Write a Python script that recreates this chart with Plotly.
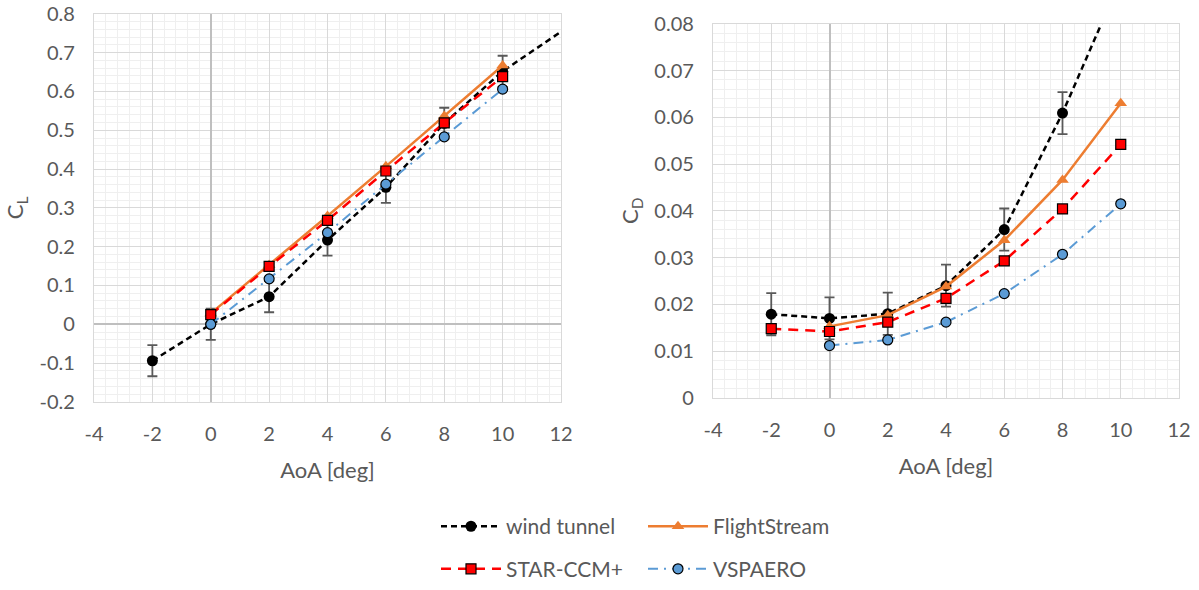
import plotly.graph_objects as go

# ---------------- data ----------------
aoa_ticks = [-4, -2, 0, 2, 4, 6, 8, 10, 12]
aoa_tick_text = ['-4', '-2', '0', '2', '4', '6', '8', '10', '12']
cl_ticks = [-0.2, -0.1, 0, 0.1, 0.2, 0.3, 0.4, 0.5, 0.6, 0.7, 0.8]
cl_tick_text = ['-0.2', '-0.1', '0', '0.1', '0.2', '0.3', '0.4', '0.5', '0.6', '0.7', '0.8']
cd_ticks = [0, 0.01, 0.02, 0.03, 0.04, 0.05, 0.06, 0.07, 0.08]
cd_tick_text = ['0', '0.01', '0.02', '0.03', '0.04', '0.05', '0.06', '0.07', '0.08']

# wind tunnel (last CL point lies beyond the visible x-range; only its line segment shows)
wt_cl_aoa = [-2, 0, 2, 4, 6, 8, 10, 14]
wt_cl = [-0.094, 0.0, 0.071, 0.217, 0.353, 0.518, 0.652, 0.856]
wt_cl_err = 0.04
wt_cd_aoa = [-2, 0, 2, 4, 6, 8, 10]
wt_cd = [0.0179, 0.0170, 0.0180, 0.0240, 0.0360, 0.0609, 0.0895]
wt_cd_err = 0.0045

fs_aoa = [0, 2, 4, 6, 8, 10]
fs_cl = [0.028, 0.153, 0.279, 0.407, 0.537, 0.667]
fs_cd = [0.0153, 0.0177, 0.0238, 0.0337, 0.0466, 0.0630]

star_cl_aoa = [0, 2, 4, 6, 8, 10]
star_cl = [0.025, 0.149, 0.268, 0.395, 0.519, 0.638]
star_cd_aoa = [-2, 0, 2, 4, 6, 8, 10]
star_cd = [0.0148, 0.0142, 0.0162, 0.0213, 0.0293, 0.0404, 0.0542]

vsp_aoa = [0, 2, 4, 6, 8, 10]
vsp_cl = [0.0, 0.117, 0.236, 0.361, 0.483, 0.606]
vsp_cd = [0.0112, 0.0124, 0.0162, 0.0223, 0.0307, 0.0415]

# ---------------- styles ----------------
W, H = 1199, 590
FONT = 'Lato, Open Sans, sans-serif'
TXT = '#595959'
ERRC = '#595959'


def px_x(p):
    return p / W


def px_y(p):
    return 1 - p / H


wt_line = dict(color='black', width=2.5, dash='6px,4px')
wt_marker = dict(symbol='circle', size=11, color='black')
fs_line = dict(color='#ED7D31', width=2.5)
fs_marker = dict(symbol='triangle-up', size=11, color='#ED7D31')
star_line = dict(color='#FF0000', width=2.5, dash='10px,7px')
star_marker = dict(symbol='square', size=10, color='#FF0000', line=dict(color='black', width=1.2))
vsp_line = dict(color='#5B9BD5', width=2, dash='10px,6px,2px,6px')
vsp_marker = dict(symbol='circle', size=10, color='#5B9BD5', line=dict(color='black', width=1.2))

fig = go.Figure()

# ---- left: CL ----
fig.add_trace(go.Scatter(x=wt_cl_aoa, y=wt_cl, mode='lines+markers', name='wind tunnel',
                         line=wt_line, marker=wt_marker, xaxis='x', yaxis='y', legend='legend',
                         error_y=dict(type='constant', value=wt_cl_err, color=ERRC, thickness=1.8, width=5)))
fig.add_trace(go.Scatter(x=fs_aoa, y=fs_cl, mode='lines+markers', name='FlightStream',
                         line=fs_line, marker=fs_marker, xaxis='x', yaxis='y', legend='legend'))
fig.add_trace(go.Scatter(x=star_cl_aoa, y=star_cl, mode='lines+markers', name='STAR-CCM+',
                         line=star_line, marker=star_marker, xaxis='x', yaxis='y', legend='legend2'))
fig.add_trace(go.Scatter(x=vsp_aoa, y=vsp_cl, mode='lines+markers', name='VSPAERO',
                         line=vsp_line, marker=vsp_marker, xaxis='x', yaxis='y', legend='legend2'))

# ---- right: CD ----
fig.add_trace(go.Scatter(x=wt_cd_aoa, y=wt_cd, mode='lines+markers', name='wind tunnel',
                         line=wt_line, marker=wt_marker, xaxis='x2', yaxis='y2', showlegend=False,
                         error_y=dict(type='constant', value=wt_cd_err, color=ERRC, thickness=1.8, width=5)))
fig.add_trace(go.Scatter(x=fs_aoa, y=fs_cd, mode='lines+markers', name='FlightStream',
                         line=fs_line, marker=fs_marker, xaxis='x2', yaxis='y2', showlegend=False))
fig.add_trace(go.Scatter(x=star_cd_aoa, y=star_cd, mode='lines+markers', name='STAR-CCM+',
                         line=star_line, marker=star_marker, xaxis='x2', yaxis='y2', showlegend=False))
fig.add_trace(go.Scatter(x=vsp_aoa, y=vsp_cd, mode='lines+markers', name='VSPAERO',
                         line=vsp_line, marker=vsp_marker, xaxis='x2', yaxis='y2', showlegend=False))

GRID = '#D9D9D9'
MINOR = '#EFEFEF'
ZERO = '#BFBFBF'


def xaxis_cfg(domain, anchor):
    return dict(domain=domain, anchor=anchor, range=[-4, 12], tickmode='array',
                tickvals=aoa_ticks, ticktext=aoa_tick_text, showgrid=True, gridcolor=GRID, gridwidth=1.3,
                minor=dict(dtick=0.4, tick0=0, showgrid=True, gridcolor=MINOR, gridwidth=1),
                zeroline=True, zerolinecolor=ZERO, zerolinewidth=1.5,
                showline=True, mirror=True, linecolor=GRID, linewidth=1.3,
                ticks='', ticklabelstandoff=14, automargin=False, ticklabeloverflow='allow',
                tickfont=dict(family=FONT, size=20, color=TXT),
                title=dict(text='AoA [deg]', font=dict(family=FONT, size=22, color=TXT), standoff=18))


def yaxis_cfg(domain, anchor, rng, vals, texts, mdt, title):
    return dict(domain=domain, anchor=anchor, range=rng, tickmode='array',
                tickvals=vals, ticktext=texts, showgrid=True, gridcolor=GRID, gridwidth=1.3,
                minor=dict(dtick=mdt, tick0=0, showgrid=True, gridcolor=MINOR, gridwidth=1),
                zeroline=True, zerolinecolor=ZERO, zerolinewidth=1.5,
                showline=True, mirror=True, linecolor=GRID, linewidth=1.3,
                ticks='', ticklabelstandoff=14, automargin=False, ticklabeloverflow='allow',
                tickfont=dict(family=FONT, size=20, color=TXT),
                title=dict(text=title, font=dict(family=FONT, size=22, color=TXT), standoff=9))


fig.update_layout(
    width=W, height=H,
    margin=dict(l=0, r=0, t=0, b=0),
    paper_bgcolor='white', plot_bgcolor='white',
    font=dict(family=FONT, color=TXT),
    xaxis=xaxis_cfg([px_x(94), px_x(561)], 'y'),
    yaxis=yaxis_cfg([px_y(406), px_y(14)], 'x', [-0.2, 0.8], cl_ticks, cl_tick_text, 0.02, 'C<sub>L</sub>'),
    xaxis2=xaxis_cfg([px_x(713), px_x(1179)], 'y2'),
    yaxis2=yaxis_cfg([px_y(402), px_y(24)], 'x2', [0, 0.08], cd_ticks, cd_tick_text, 0.002, 'C<sub>D</sub>'),
    legend=dict(orientation='h', x=px_x(436), xanchor='left', y=px_y(532), yanchor='middle',
                entrywidth=132, entrywidthmode='pixels', itemwidth=60,
                font=dict(family=FONT, size=21, color=TXT), bgcolor='rgba(0,0,0,0)'),
    legend2=dict(orientation='h', x=px_x(436), xanchor='left', y=px_y(575), yanchor='middle',
                 entrywidth=132, entrywidthmode='pixels', itemwidth=60,
                 font=dict(family=FONT, size=21, color=TXT), bgcolor='rgba(0,0,0,0)'),
)

fig.write_html('out.html', config={'displayModeBar': False},
               post_script=("document.documentElement.style.margin='0';"
                            "document.documentElement.style.overflow='hidden';"
                            "document.body.style.margin='0';document.body.style.padding='0';"
                            "document.body.style.overflow='hidden';"))
